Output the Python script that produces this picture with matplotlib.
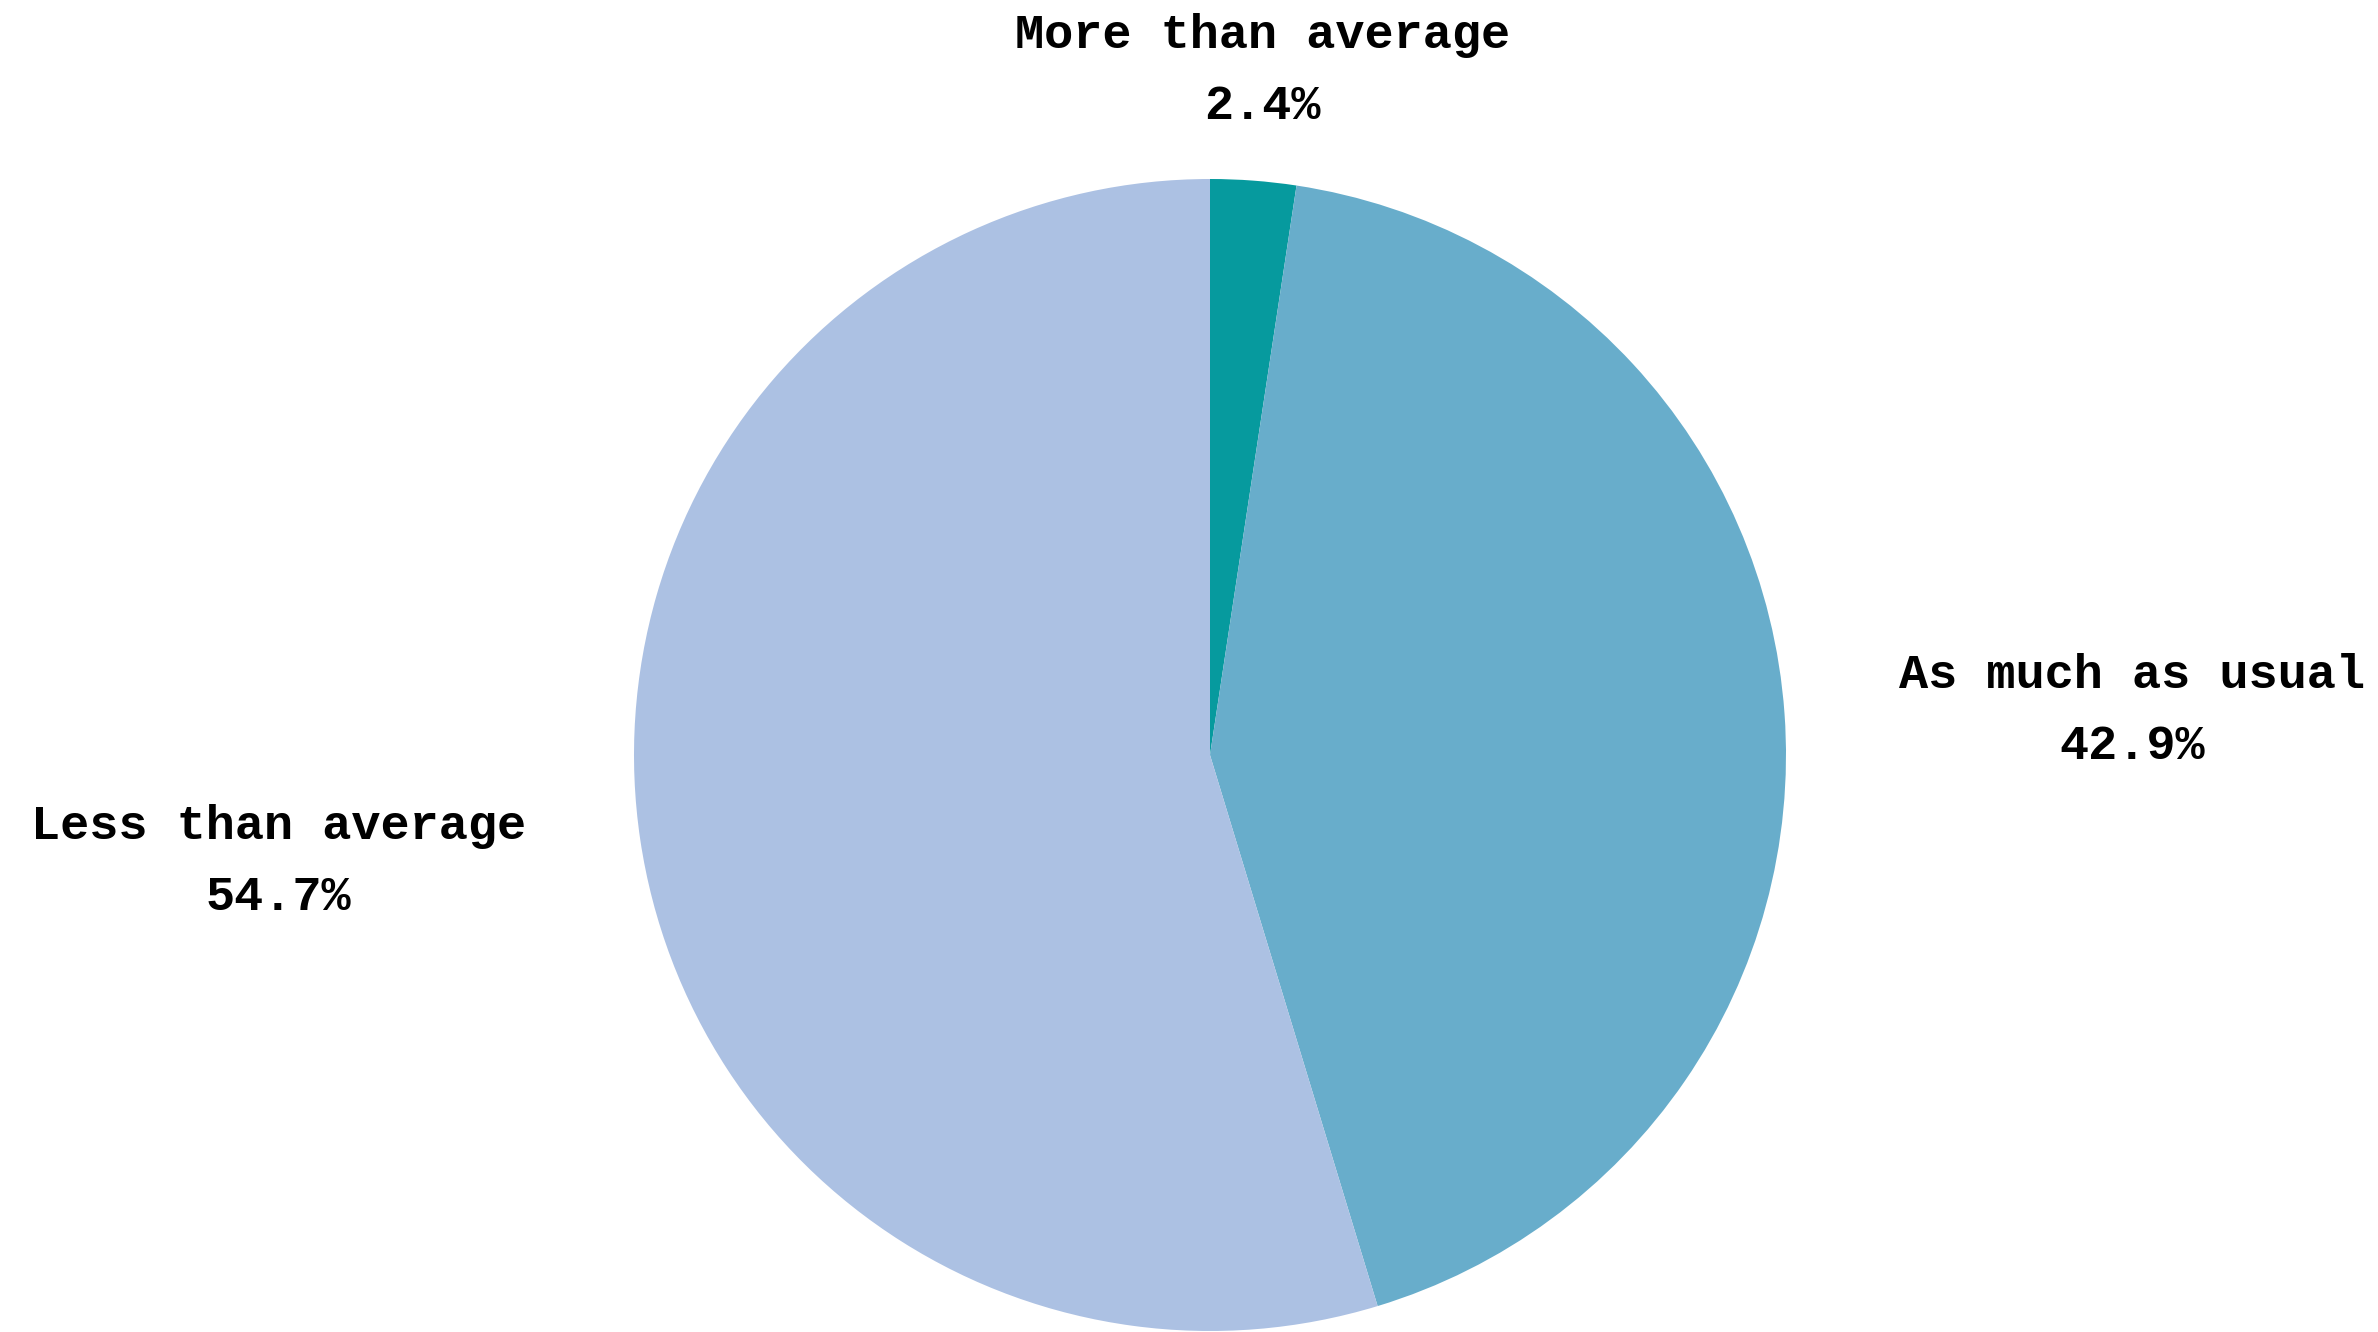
import numpy as np
import matplotlib.pyplot as plt

labels = ["More than average", "As much as usual", "Less than average"]
shares = [2.4, 42.9, 54.7]
colors = ["#069A9E", "#68ADCB", "#ACC1E3"]

plt.rcParams["font.family"] = ["Liberation Mono", "DejaVu Sans Mono"]

fig = plt.figure(figsize=(23.78, 13.32), dpi=100)
ax = fig.add_axes([0, 0, 1, 1])

wedges, _ = ax.pie(shares, colors=colors, startangle=90, counterclock=False,
                   radius=1.0, wedgeprops=dict(linewidth=0))

# place labels around the pie, two lines each, centred
label_dist = 1.20
for w, name, val in zip(wedges, labels, shares):
    mid = np.deg2rad((w.theta1 + w.theta2) / 2)
    x, y = label_dist * np.cos(mid), label_dist * np.sin(mid)
    if abs(np.cos(mid)) < 0.3:
        ha = "center"
    else:
        ha = "left" if x > 0 else "right"
    ax.annotate(f"{name}\n{val:.1f}%", xy=(x, y), xytext=(0, -4),
                textcoords="offset points", ha=ha, va="center",
                multialignment="center", fontsize=35, fontweight="bold",
                linespacing=1.75, color="black")

# pixel-matched framing: radius 576 px, centre at (1210, 577) from bottom-left
ax.set_aspect("auto")
ax.set_xlim(-1210 / 576, (2378 - 1210) / 576)
ax.set_ylim(-577 / 576, (1332 - 577) / 576)
ax.axis("off")

fig.savefig("out.png", dpi=100, facecolor="white")
plt.close(fig)
